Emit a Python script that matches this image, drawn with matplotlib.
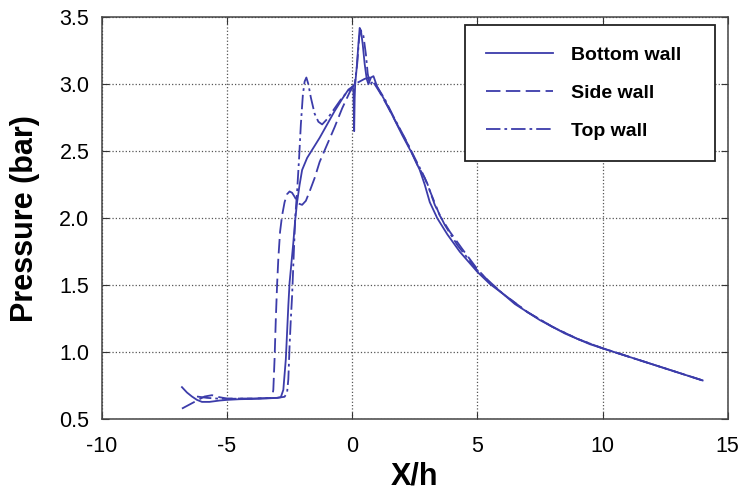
import numpy as np
import matplotlib
matplotlib.use("Agg")
import matplotlib.pyplot as plt

# wall pressure along the channel
x_bottom = [-6.8, -6.6, -6.4, -6.2, -6.0, -5.7, -5.3, -5.0, -4.5, -4.0, -3.5, -3.0,
            -2.85, -2.75, -2.65, -2.6, -2.55, -2.5, -2.42, -2.35, -2.28, -2.2, -2.1,
            -2.0, -1.8, -1.6, -1.3, -1.0, -0.7, -0.4, -0.15, 0.0, 0.05, 0.08, 0.1,
            0.12, 0.18, 0.25, 0.3, 0.35, 0.42, 0.5, 0.58, 0.65, 0.75, 0.85, 1.0, 1.3,
            1.6, 2.0, 2.4, 2.7, 2.9, 3.1, 3.4, 3.8, 4.3, 5.0, 5.5, 6.0, 6.5, 7.0, 7.5,
            8.0, 8.5, 9.0, 9.5, 10.0, 10.5, 11.0, 11.5, 12.0, 12.5, 13.0, 13.5, 14.0]
p_bottom = [0.74, 0.70, 0.67, 0.645, 0.63, 0.63, 0.64, 0.645, 0.65, 0.652, 0.655, 0.66,
            0.665, 0.72, 0.95, 1.15, 1.35, 1.52, 1.68, 1.82, 1.98, 2.12, 2.25,
            2.36, 2.45, 2.51, 2.6, 2.7, 2.8, 2.89, 2.96, 2.98, 2.96, 2.65, 2.9,
            3.0, 3.12, 3.3, 3.42, 3.4, 3.3, 3.15, 3.04, 3.0, 3.05, 3.06, 2.98, 2.88,
            2.77, 2.62, 2.48, 2.36, 2.25, 2.12, 2.0, 1.88, 1.75, 1.6, 1.51, 1.44, 1.36, 1.3, 1.24,
            1.19, 1.14, 1.1, 1.06, 1.03, 1.0, 0.97, 0.94, 0.91, 0.88, 0.85, 0.82, 0.79]

x_side = [-6.8, -6.5, -6.2, -5.9, -5.6, -5.3, -5.0, -4.0, -3.5, -3.2, -3.15, -3.1, -3.05,
          -3.0, -2.95, -2.88, -2.8, -2.7, -2.6, -2.5, -2.4, -2.3, -2.15, -2.0, -1.85,
          -1.7, -1.5, -1.3, -1.0, -0.7, -0.4, -0.1, 0.1, 0.3, 0.5, 0.7, 0.9, 1.1, 1.4,
          1.8, 2.2, 2.6, 2.9, 3.2, 3.5, 3.9, 4.4, 5.0, 5.5, 6.0, 7.0, 8.0, 9.0, 10.0,
          11.0, 12.0, 13.0, 14.0]
p_side = [0.58, 0.61, 0.64, 0.67, 0.68, 0.665, 0.655, 0.655, 0.658, 0.66, 0.72, 0.95, 1.25,
          1.5, 1.7, 1.9, 2.02, 2.12, 2.18, 2.2, 2.19, 2.16, 2.11, 2.1, 2.13,
          2.2, 2.3, 2.42, 2.55, 2.68, 2.82, 2.94, 3.0, 3.02, 3.04, 3.05, 3.0, 2.94, 2.84,
          2.7, 2.56, 2.4, 2.3, 2.16, 2.02, 1.9, 1.77, 1.62, 1.52, 1.44, 1.3, 1.19, 1.1, 1.03,
          0.97, 0.91, 0.85, 0.79]

x_top = [-6.2, -5.8, -5.4, -5.0, -4.0, -3.0, -2.7, -2.6, -2.55, -2.5, -2.45, -2.4, -2.33,
         -2.27, -2.2, -2.12, -2.05, -1.97, -1.9, -1.83, -1.75, -1.65, -1.5, -1.35, -1.2,
         -1.0, -0.7, -0.4, -0.1, 0.1, 0.2, 0.28, 0.35, 0.45, 0.55, 0.62, 0.7, 0.85, 1.0,
         1.3, 1.7, 2.1, 2.5, 2.8, 3.0, 3.3, 3.7, 4.2, 5.0, 6.0, 7.0, 8.0, 9.0, 10.0,
         11.0, 12.0, 13.0, 14.0]
p_top = [0.67, 0.66, 0.655, 0.653, 0.655, 0.66, 0.668, 0.7, 0.8, 1.05, 1.25, 1.42, 1.75,
         2.02, 2.2, 2.45, 2.7, 2.92, 3.02, 3.05, 3.0, 2.9, 2.78, 2.72, 2.7,
         2.74, 2.82, 2.9, 2.96, 3.0, 3.15, 3.35, 3.4, 3.36, 3.22, 3.08, 3.0, 3.02, 2.98,
         2.89, 2.74, 2.6, 2.45, 2.34, 2.26, 2.1, 1.95, 1.8, 1.61, 1.44, 1.3, 1.19, 1.1, 1.03,
         0.97, 0.91, 0.85, 0.79]

xticks = [-10, -5, 0, 5, 10, 15]
yticks = [0.5, 1.0, 1.5, 2.0, 2.5, 3.0, 3.5]

plt.rcParams['font.family'] = ['Liberation Sans', 'DejaVu Sans']
plt.rcParams['axes.unicode_minus'] = False
col = '#3c3caa'

fig = plt.figure(figsize=(7.38, 4.91), dpi=100)
ax = fig.add_axes([0.138, 0.146, 0.848, 0.819])

ax.plot(x_bottom, p_bottom, color=col, lw=1.3, label='Bottom wall')
ax.plot(x_side, p_side, color=col, lw=1.3, dashes=(8, 3), label='Side wall')
ax.plot(x_top, p_top, color=col, lw=1.3, dashes=(8, 2.2, 1.5, 2.2), label='Top wall')

ax.set_xlim(-10, 15)
ax.set_ylim(0.5, 3.5)
ax.set_xticks(xticks)
ax.set_yticks(yticks)
ax.set_yticklabels(['%.1f' % v for v in yticks])
ax.grid(True, linestyle=':', color='#555555', lw=0.9)
ax.tick_params(direction='in', top=True, right=True, length=5, labelsize=15.5,
               color='#333333')
ax.tick_params(axis='x', pad=12)
ax.tick_params(axis='y', pad=9)
for s in ax.spines.values():
    s.set_color('#444444')
    s.set_linewidth(1.1)

ax.set_xlabel('X/h', fontsize=22, fontweight='bold', labelpad=3)
ax.set_ylabel('Pressure (bar)', fontsize=22, fontweight='bold', labelpad=14)

leg = ax.legend(loc='upper left', bbox_to_anchor=(0.58, 0.98, 0.399, 0.0), mode='expand',
                borderaxespad=0, fancybox=False, framealpha=1, edgecolor='#222222',
                prop={'size': 14, 'weight': 'bold'}, handlelength=3.45,
                handletextpad=0.93, labelspacing=1.05, borderpad=1.08)
leg.get_frame().set_linewidth(1.3)

fig.savefig('out.png', dpi=100)
